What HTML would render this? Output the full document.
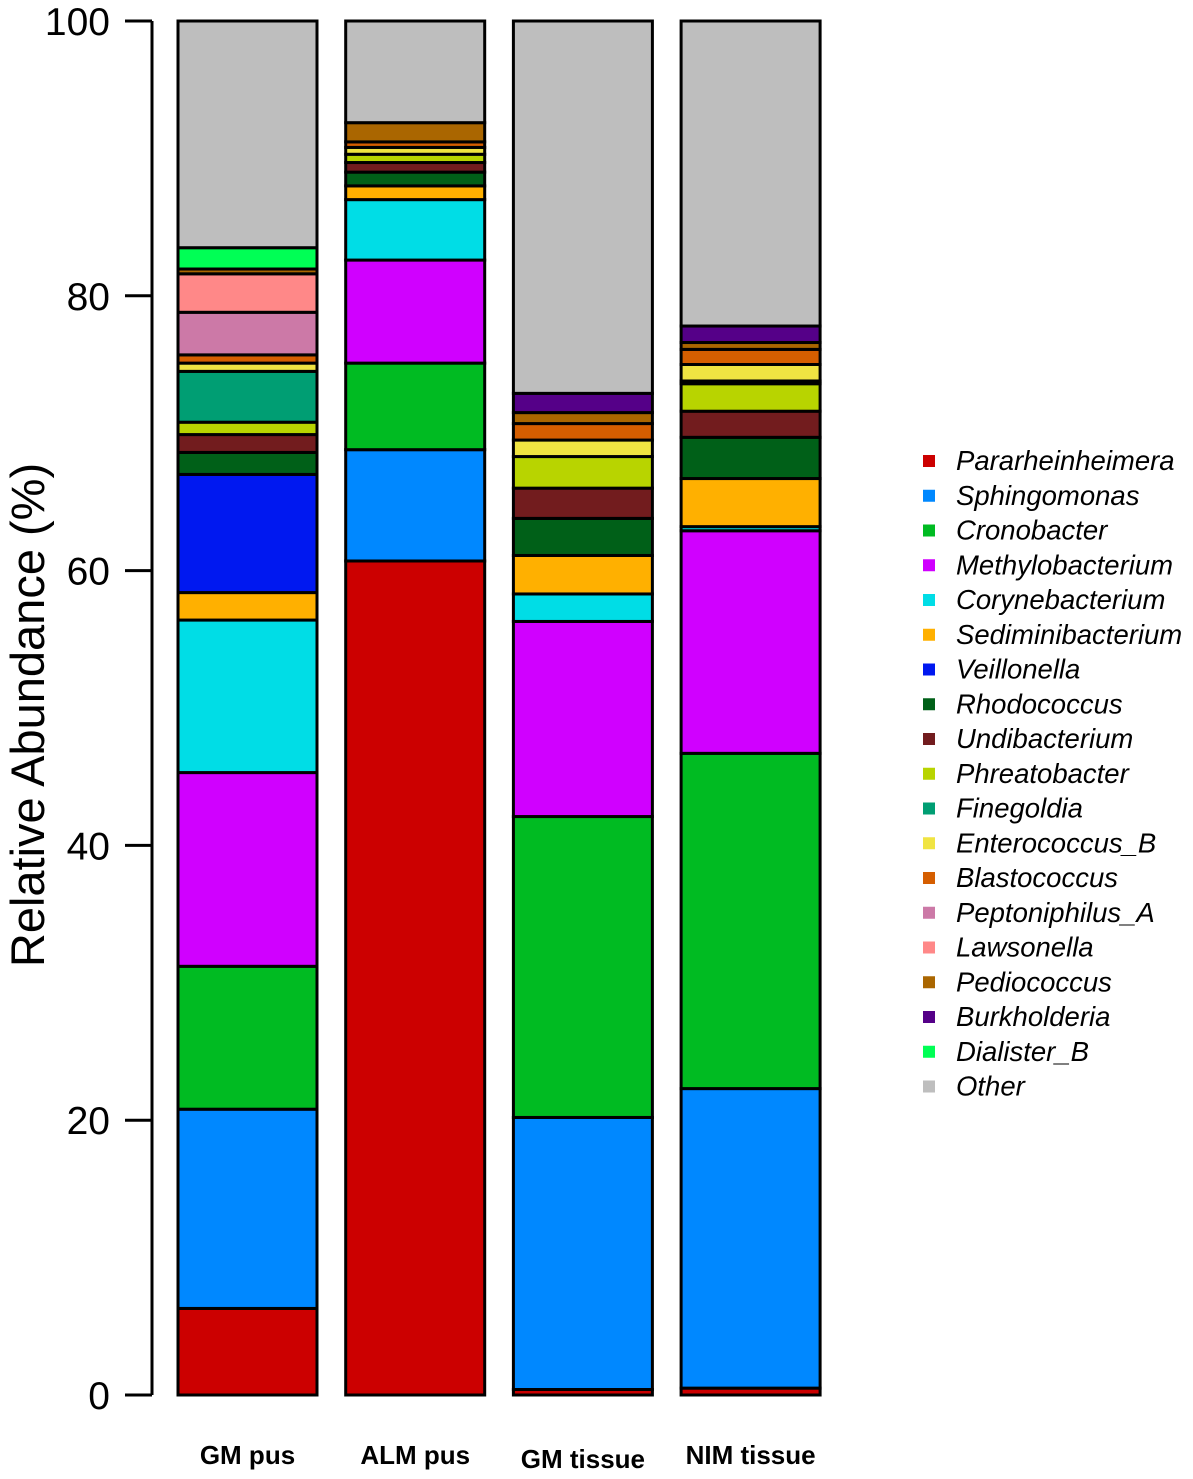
<!DOCTYPE html>
<html><head><meta charset="utf-8"><style>
body{margin:0;background:#fff;}
svg{display:block;font-family:"Liberation Sans",sans-serif;}
</style></head><body>
<svg id="chart" width="1193" height="1479"></svg>
<script>
const categories=["GM pus","ALM pus","GM tissue","NIM tissue"];
const taxa=["Pararheinheimera","Sphingomonas","Cronobacter","Methylobacterium","Corynebacterium","Sediminibacterium","Veillonella","Rhodococcus","Undibacterium","Phreatobacter","Finegoldia","Enterococcus_B","Blastococcus","Peptoniphilus_A","Lawsonella","Pediococcus","Burkholderia","Dialister_B","Other"];
const colors=["#CC0000","#0088FF","#00BB22","#D000FF","#00DDE6","#FFB000","#0018F0","#006018","#721C1E","#B8D400","#009E73","#F0E442","#D55E00","#CC79A7","#FF8888","#AA6600","#550088","#00FF55","#BEBEBE"];
const gmPus=[6.3,14.5,10.4,14.1,11.1,2.0,8.6,1.6,1.3,0.9,3.7,0.6,0.6,3.1,2.8,0.35,0,1.55,16.5];
const almPus=[60.7,8.1,6.3,7.5,4.4,1.0,0,1.0,0.7,0.6,0,0.5,0.4,0,0,1.4,0,0,7.4];
const gmTissue=[0.4,19.8,21.9,14.2,2.0,2.8,0,2.7,2.2,2.3,0,1.2,1.2,0,0,0.8,1.4,0,27.1];
const nimTissue=[0.5,21.8,24.4,16.2,0.3,3.5,0,3.0,1.9,2.0,0.2,1.2,1.1,0,0,0.5,1.2,0,22.2];
const series=[gmPus,almPus,gmTissue,nimTissue];
const yTicks=[0,20,40,60,80,100];
const NS="http://www.w3.org/2000/svg";
const svg=document.getElementById('chart');
const y0=1395,y1=21;
function yScale(v){return y0-(v/100)*(y0-y1);}
const barW=139;
function xScale(i){return 178+i*167.7;}
function mk(t,a){const e=document.createElementNS(NS,t);for(const k in a)e.setAttribute(k,a[k]);svg.appendChild(e);return e;}
let ax=mk('line',{x1:152,y1:yScale(0),x2:152,y2:yScale(100),stroke:'#000','stroke-width':3});


yTicks.forEach(t=>{
 const l=mk('line',{x1:125,x2:152,y1:yScale(t),y2:yScale(t),stroke:'#000','stroke-width':3});
 
 
 const tx=mk('text',{x:110,y:yScale(t)+14,'text-anchor':'end','font-size':39});
 tx.textContent=t;
 
 
});
const yt=mk('text',{transform:'translate(44,715) rotate(-90)','text-anchor':'middle','font-size':47});
yt.textContent='Relative Abundance (%)';


series.forEach((vals,i)=>{
 let cum=0;const x=xScale(i);
 vals.forEach((v,j)=>{
  if(v<=0)return;
  const r=mk('rect',{x:x,y:yScale(cum+v),width:barW,height:yScale(cum)-yScale(cum+v),fill:colors[j],stroke:'#000','stroke-width':3});
  
  
  cum+=v;
 });
 const lb=mk('text',{x:x+barW/2,y:i==2?1468:1464,'text-anchor':'middle','font-size':26,'font-weight':'bold'});
 lb.textContent=categories[i];
 
 
});
taxa.forEach((t,j)=>{
 const yy=461+j*34.75;
 const s=mk('rect',{x:923,y:yy-6,width:12,height:12,fill:colors[j]});
 
 
 const tx=mk('text',{x:956,y:yy+9,'font-size':27.5,'font-style':'italic'});
 tx.textContent=t;
 
 
});
</script>
</body></html>
